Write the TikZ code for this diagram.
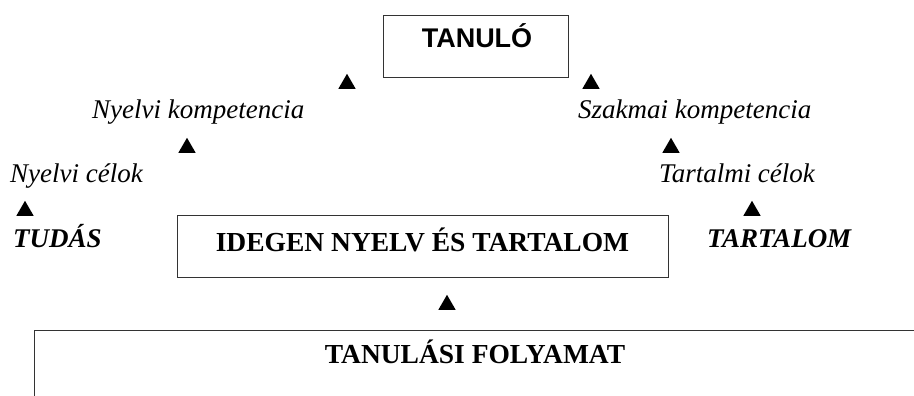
\documentclass[tikz,border=0pt]{standalone}
\usepackage{fontspec}
\setmainfont{Liberation Serif}
\newfontfamily\arialf{Liberation Sans}
\usetikzlibrary{shapes.geometric}
\begin{document}
\begin{tikzpicture}[x=1pt,y=-1pt,
  boxline/.style={draw=black!80,line width=1.3pt},
  tri/.style={regular polygon,regular polygon sides=3,fill=black,inner sep=0pt,minimum size=20pt,anchor=south},
  itlab/.style={inner sep=0pt,anchor=base west,font=\fontsize{27}{32}\selectfont\itshape},
  bilab/.style={inner sep=0pt,anchor=base west,font=\fontsize{27}{32}\selectfont\bfseries\itshape},
  bflab/.style={inner sep=0pt,anchor=base,font=\fontsize{27.5}{32}\selectfont\bfseries}]
\useasboundingbox (0,0) rectangle (914,396);
% top box
\node[boxline,minimum width=185pt,minimum height=62pt,anchor=north west,inner sep=0pt] (tanulobox) at (383,15) {};
\node[inner sep=0pt,anchor=base,font=\arialf\fontsize{27}{32}\selectfont\bfseries] (tanulo) at (477,48) {TANULÓ};
% triangles
\node[tri] (t1) at (347,89) {};
\node[tri] (t2) at (591,89) {};
\node[tri] (t3) at (187,153) {};
\node[tri] (t4) at (671,153) {};
\node[tri] (t5) at (752,216) {};
\node[tri] (t6) at (25,216) {};
\node[tri] (t7) at (447,310) {};
% labels
\node[itlab] (nyk) at (92,118) {Nyelvi kompetencia};
\node[itlab] (szk) at (578,118) {Szakmai kompetencia};
\node[itlab] (nyc) at (10,182) {Nyelvi célok};
\node[itlab] (tc) at (659,182) {Tartalmi célok};
\node[bilab] (tudas) at (13,247) {TUDÁS};
\node[bilab] (tartalom) at (707,247) {TARTALOM};
% middle box
\node[boxline,minimum width=491pt,minimum height=62pt,anchor=north west,inner sep=0pt] (idegenbox) at (177,215) {};
\node[bflab] (idegen) at (422.5,251) {IDEGEN NYELV ÉS TARTALOM};
% bottom box
\begin{scope}
\clip (0,0) rectangle (914,396);
\node[boxline,minimum width=1000pt,minimum height=120pt,anchor=north west,inner sep=0pt] (folybox) at (34,330) {};
\end{scope}
\node[bflab] (foly) at (475,363) {TANULÁSI FOLYAMAT};
\end{tikzpicture}
\end{document}
